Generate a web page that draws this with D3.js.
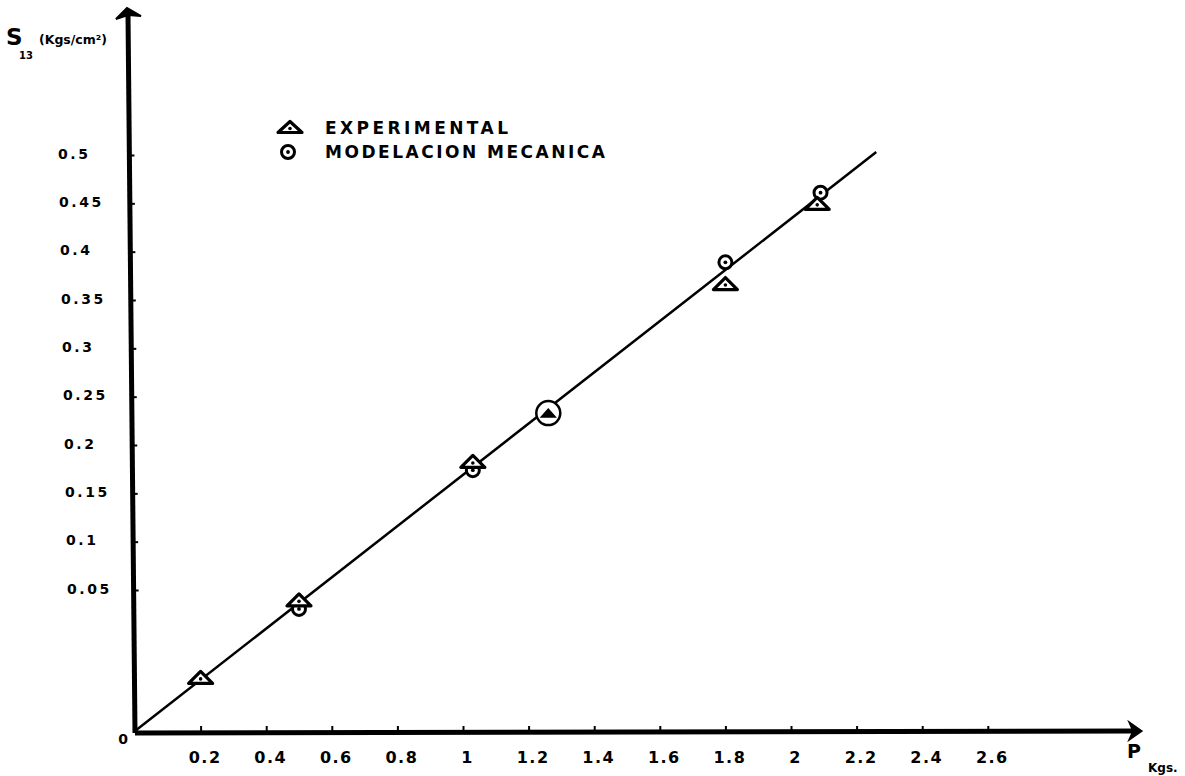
<!DOCTYPE html>
<html>
<head>
<meta charset="utf-8">
<script src="https://cdn.jsdelivr.net/npm/d3@7"></script>
<style>
  body { margin: 0; background: #fff; }
  svg { display: block; }
  text { font-family: "DejaVu Sans", sans-serif; font-weight: bold; fill: #000; }
</style>
</head>
<body>
<svg id="chart"></svg>
<script>
// values
var xTicks = [0.2, 0.4, 0.6, 0.8, 1, 1.2, 1.4, 1.6, 1.8, 2, 2.2, 2.4, 2.6];
var yTicks = [0.05, 0.1, 0.15, 0.2, 0.25, 0.3, 0.35, 0.4, 0.45, 0.5];

var expP = [0.2, 0.5, 1.03, 1.26, 1.80, 2.08];
var expS = [0.019, 0.0465, 0.183, 0.233, 0.367, 0.450];

var modP = [0.5, 1.03, 1.26, 1.80, 2.09];
var modS = [0.0433, 0.174, 0.233, 0.389, 0.461];

var fitP = [0, 2.26];
var fitS = [0, 0.503];

var xEnd = 3.07, yEnd = 0.652;

var width = 1185, height = 776;
var svg = d3.select('#chart').attr('width', width).attr('height', height);

var x = d3.scaleLinear().domain([0, 1]).range([135, 463]);
// hand drawn axis: the first division is much taller than the rest
var y = d3.scaleLinear().domain([0, 0.05, 0.5]).range([731, 590, 155]);

// the drawn y axis leans a little to the left going up
var lean = d3.scaleLinear().domain([y(0), y(yEnd)]).range([0, -7]);

// x axis
var gx = svg.append('g').attr('transform', 'translate(0,' + y(0) + ')')
    .call(d3.axisBottom(x).tickValues(xTicks).tickSize(-5).tickPadding(0)
        .tickFormat(function (d) { return d; }));
gx.select('.domain').remove();
gx.selectAll('.tick line').attr('stroke', '#000').attr('stroke-width', 2);
gx.selectAll('.tick text').attr('x', 4).attr('y', 32).attr('dy', 0)
    .style('font-size', '16px').style('letter-spacing', '1.5px');

// y axis
var gy = svg.append('g').attr('transform', 'translate(' + x(0) + ',0)')
    .call(d3.axisLeft(y).tickValues(yTicks).tickSize(-5).tickPadding(0)
        .tickFormat(function (d) { return d; }));
gy.select('.domain').remove();
gy.selectAll('.tick line').attr('stroke', '#000').attr('stroke-width', 2)
    .attr('x1', function (d) { return lean(y(d)); })
    .attr('x2', function (d) { return lean(y(d)) + 5; });
gy.selectAll('.tick text')
    .attr('text-anchor', 'start')
    .attr('x', function (d, i) { return -68 - i * 1.0; })
    .attr('dy', '0.22em')
    .style('font-size', '14px').style('letter-spacing', '2.6px');

// axis lines with arrow heads
svg.append('line')
    .attr('x1', x(0)).attr('y1', y(0) + 2)
    .attr('x2', x(xEnd) - 6).attr('y2', y(0))
    .attr('stroke', '#000').attr('stroke-width', 5);
svg.append('line')
    .attr('x1', x(0)).attr('y1', y(0) + 2)
    .attr('x2', x(0) + lean(y(yEnd))).attr('y2', y(yEnd) + 6)
    .attr('stroke', '#000').attr('stroke-width', 5);

var tx = x(xEnd), ty = y(0);
svg.append('path')
    .attr('d', 'M' + tx + ',' + ty + 'L' + (tx - 13) + ',' + (ty - 9) +
        'L' + (tx - 9) + ',' + ty + 'L' + (tx - 13) + ',' + (ty + 9) + 'Z')
    .attr('fill', '#000').attr('stroke', '#000').attr('stroke-width', 1.5);
var ax = x(0) + lean(y(yEnd)) - 1, ay = y(yEnd);
svg.append('path')
    .attr('d', 'M' + ax + ',' + ay + 'L' + (ax - 11) + ',' + (ay + 11) +
        'L' + (ax + 1) + ',' + (ay + 7) + 'L' + (ax + 14) + ',' + (ay + 8) + 'Z')
    .attr('fill', '#000').attr('stroke', '#000').attr('stroke-width', 2);

// origin label
svg.append('text').attr('x', x(0) - 12).attr('y', y(0) + 13)
    .attr('text-anchor', 'middle').style('font-size', '14px').text('0');

// axis titles
svg.append('text').attr('x', 6).attr('y', 45).style('font-size', '23px').text('S');
svg.append('text').attr('x', 19).attr('y', 59).style('font-size', '10px').text('13');
svg.append('text').attr('x', 39).attr('y', 44).style('font-size', '12.5px').text('(Kgs/cm²)');

svg.append('text').attr('x', 1127).attr('y', 758).style('font-size', '19px').text('P');
svg.append('text').attr('x', 1148).attr('y', 772).style('font-size', '12px').text('Kgs.');

// fitted line
var line = d3.line()
    .x(function (d) { return x(d[0]); })
    .y(function (d) { return y(d[1]); });
svg.append('path')
    .datum(d3.zip(fitP, fitS))
    .attr('d', line)
    .attr('fill', 'none').attr('stroke', '#000').attr('stroke-width', 2.5);

function triangle(g, cx, cy, w, h) {
    g.append('path')
        .attr('d', 'M' + (cx - w / 2) + ',' + (cy + h / 2) + 'L' + (cx + w / 2) + ',' + (cy + h / 2) +
            'L' + cx + ',' + (cy - h / 2) + 'Z')
        .attr('fill', '#fff').attr('stroke', '#000').attr('stroke-width', 3.2)
        .attr('stroke-linejoin', 'round');
    g.append('circle').attr('cx', cx).attr('cy', cy + 1.5).attr('r', 1.8).attr('fill', '#000');
}

function ring(g, cx, cy, r) {
    g.append('circle').attr('cx', cx).attr('cy', cy).attr('r', r)
        .attr('fill', '#fff').attr('stroke', '#000').attr('stroke-width', 3);
    g.append('circle').attr('cx', cx).attr('cy', cy).attr('r', 1.9).attr('fill', '#000');
}

var pts = svg.append('g');

// modelacion mecanica: ring, or a big ring round a coincident experimental point
modP.forEach(function (p, i) {
    var same = expP.some(function (q, j) { return q === p && expS[j] === modS[i]; });
    if (same) {
        pts.append('circle').attr('cx', x(p)).attr('cy', y(modS[i])).attr('r', 12)
            .attr('fill', '#fff').attr('stroke', '#000').attr('stroke-width', 2.5);
    } else {
        ring(pts, x(p), y(modS[i]), 6.5);
    }
});

// experimental: triangles
expP.forEach(function (p, i) {
    var same = modP.some(function (q, j) { return q === p && modS[j] === expS[i]; });
    if (same) {
        pts.append('path')
            .attr('d', 'M' + (x(p) - 7) + ',' + (y(expS[i]) + 4) + 'L' + (x(p) + 7) + ',' + (y(expS[i]) + 4) +
                'L' + x(p) + ',' + (y(expS[i]) - 4) + 'Z')
            .attr('fill', '#000').attr('stroke', '#000').attr('stroke-width', 1.5);
    } else {
        triangle(pts, x(p), y(expS[i]), 24, 12);
    }
});

// legend
var lg = svg.append('g');
triangle(lg, 290, 127, 24, 11);
lg.append('text').attr('x', 325).attr('y', 134).style('font-size', '17px')
    .attr('textLength', 183).attr('lengthAdjust', 'spacing').text('EXPERIMENTAL');
ring(lg, 288, 152, 6.5);
lg.append('text').attr('x', 325).attr('y', 158).style('font-size', '17px')
    .attr('textLength', 280).attr('lengthAdjust', 'spacing').text('MODELACION MECANICA');
</script>
</body>
</html>
